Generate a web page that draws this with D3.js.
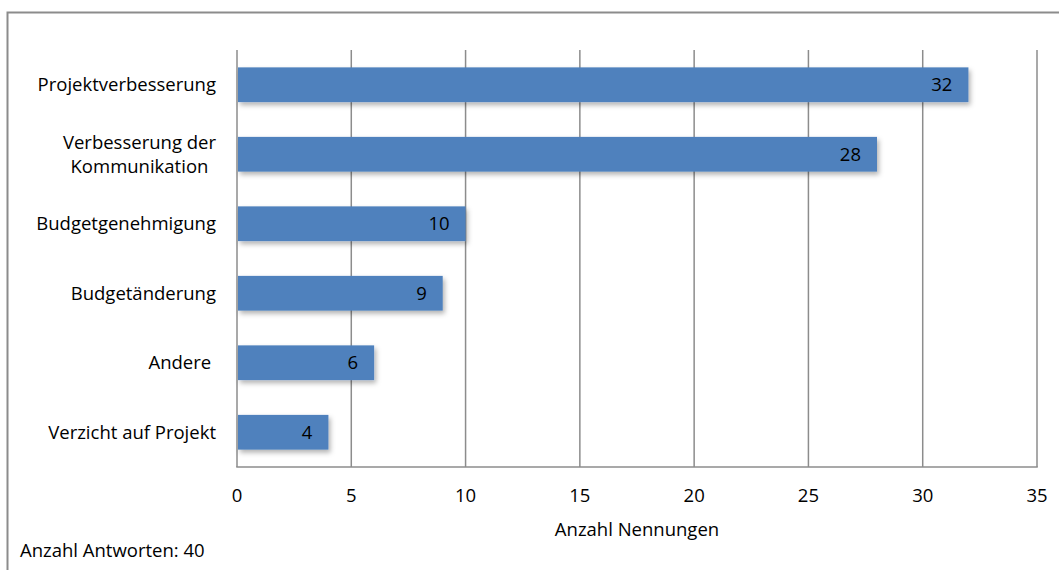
<!DOCTYPE html>
<html>
<head>
<meta charset="utf-8">
<script src="https://cdn.jsdelivr.net/npm/d3@7"></script>
<style>
  html, body { margin: 0; padding: 0; background: #fff; }
  svg text { font-family: "Open Sans", Lato, "Liberation Sans", sans-serif; fill: #000; white-space: pre; }
</style>
</head>
<body>
<svg id="chart" width="1059" height="570"></svg>
<script>
// Reasons named in the survey, top to bottom
const categories = [
  ["Projektverbesserung"],
  ["Verbesserung der", "Kommunikation"],
  ["Budgetgenehmigung"],
  ["Budgetänderung"],
  ["Andere "],
  ["Verzicht auf Projekt"]
];
const counts = [32, 28, 10, 9, 6, 4];
const xTicks = [0, 5, 10, 15, 20, 25, 30, 35];
const xTitle = "Anzahl Nennungen";
const footnote = "Anzahl Antworten: 40";

const svg = d3.select("#chart");
const W = 1059, H = 570;
const plot = { left: 237, right: 1037, top: 50, bottom: 467 };
const fs = 18.5;

// Outer frame
svg.append("rect")
  .attr("x", 7.5).attr("y", 12.5)
  .attr("width", W + 10).attr("height", H + 10)
  .attr("fill", "none").attr("stroke", "#8c8c8c").attr("stroke-width", 2);

// Soft drop shadow for the bars
const defs = svg.append("defs");
const f = defs.append("filter").attr("id", "shadow")
  .attr("x", "-10%").attr("y", "-30%").attr("width", "130%").attr("height", "180%");
f.append("feDropShadow").attr("dx", 2).attr("dy", 3).attr("stdDeviation", 2.5)
  .attr("flood-color", "#000").attr("flood-opacity", 0.3);

const x = d3.scaleLinear().domain([0, 35]).range([plot.left, plot.right]);
const y = d3.scaleBand().domain(d3.range(categories.length))
  .range([plot.top, plot.bottom]).paddingInner(0.5).paddingOuter(0.25);

// Vertical gridlines
svg.append("g").selectAll("line").data(xTicks.filter(t => t > 0)).join("line")
  .attr("x1", d => x(d)).attr("x2", d => x(d))
  .attr("y1", plot.top).attr("y2", plot.bottom)
  .attr("stroke", "#8c8c8c").attr("stroke-width", 1.5);

// Axis lines
svg.append("line")
  .attr("x1", x(0)).attr("x2", x(0)).attr("y1", plot.top).attr("y2", plot.bottom)
  .attr("stroke", "#8c8c8c").attr("stroke-width", 1.5);
svg.append("line")
  .attr("x1", x(0) - 0.75).attr("x2", plot.right + 0.75).attr("y1", plot.bottom).attr("y2", plot.bottom)
  .attr("stroke", "#8c8c8c").attr("stroke-width", 1.5);

// Bars
svg.append("g").selectAll("rect").data(counts).join("rect")
  .attr("x", x(0) + 1)
  .attr("y", (d, i) => y(i))
  .attr("width", d => x(d) - x(0) - 1)
  .attr("height", y.bandwidth())
  .attr("fill", "#4f81bd")
  .attr("filter", "url(#shadow)");

// Value labels inside bar ends
svg.append("g").selectAll("text").data(counts).join("text")
  .attr("x", d => x(d) - 16)
  .attr("y", (d, i) => y(i) + y.bandwidth() / 2)
  .attr("dy", "0.35em")
  .attr("text-anchor", "end")
  .attr("font-size", fs)
  .text(d => d);

// Category labels (multi-line labels are centred within their block)
const catRight = 216, lineH = 24;
categories.forEach((lines, i) => {
  const cy = y(i) + y.bandwidth() / 2;
  const g = svg.append("g");
  const texts = lines.map((ln, j) => g.append("text")
    .attr("font-size", fs)
    .attr("y", cy + (j - (lines.length - 1) / 2) * lineH)
    .attr("dy", "0.35em")
    .attr("text-anchor", "middle")
    .text(ln));
  const widest = d3.max(texts, t => t.node().getComputedTextLength());
  texts.forEach(t => t.attr("x", catRight - widest / 2));
});

// X tick labels
svg.append("g").selectAll("text").data(xTicks).join("text")
  .attr("x", d => x(d)).attr("y", 496)
  .attr("dy", "0.35em")
  .attr("text-anchor", "middle")
  .attr("font-size", fs)
  .text(d => d);

// Axis title
svg.append("text")
  .attr("x", (plot.left + plot.right) / 2).attr("y", 530)
  .attr("dy", "0.35em").attr("text-anchor", "middle")
  .attr("font-size", fs)
  .text(xTitle);

// Footnote
svg.append("text")
  .attr("x", 20).attr("y", 551)
  .attr("dy", "0.35em")
  .attr("font-size", fs)
  .text(footnote);
</script>
</body>
</html>
